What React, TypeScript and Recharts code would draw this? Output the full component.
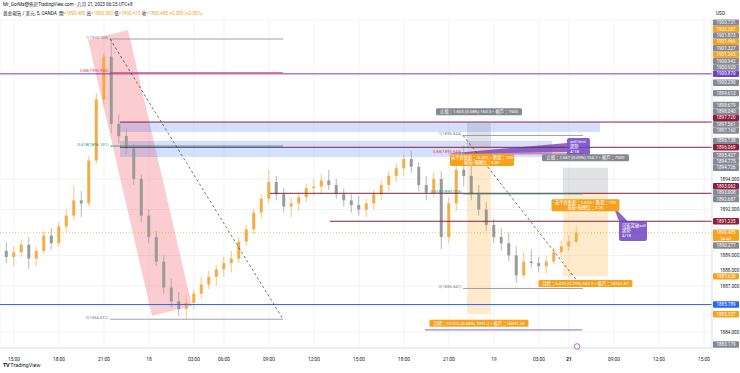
import React from "react";
import {
  ComposedChart,
  Bar,
  XAxis,
  YAxis,
  CartesianGrid,
  ReferenceLine,
  ReferenceArea,
  ReferenceDot,
} from "recharts";

const FONT = "Roboto, 'Noto Sans CJK TC', 'Noto Sans', sans-serif";
const UP = "#f5ac45";
const DOWN = "#9a9a9a";
const ORANGE = "#f6a21e";
const GRAY = "#868993";
const RED = "#8e1e3a";
const PURPLE = "#6f42c1";
const BLUE = "#2962ff";
const TEAL = "#089981";
const PINK = "#f23645";

// 30 minute bars (0 = Aug 17 15:00)
const firstOpen = 1889.3;
const closes = [
  1888.9, 1889.2, 1889.7, 1888.8, 1889.3, 1890.3, 1889.8, 1890.9, 1891.6, 1892.6,
  1892.4, 1895.2, 1899.2, 1902.0, 1897.6, 1896.8, 1896.0, 1894.0, 1891.6, 1890.2,
  1888.6, 1886.9, 1886.0, 1885.5, 1885.9, 1886.5, 1887.1, 1887.6, 1888.1, 1888.5,
  1888.8, 1889.9, 1890.7, 1891.8, 1892.7, 1893.8, 1893.0, 1892.2, 1892.4, 1892.8,
  1893.4, 1893.5, 1893.9, 1893.6, 1893.0, 1892.6, 1892.3, 1892.0, 1892.4, 1893.0,
  1893.6, 1894.2, 1894.7, 1895.3, 1894.8, 1893.6, 1893.1, 1894.0, 1890.2, 1892.4,
  1894.6, 1894.2, 1893.0, 1892.0, 1891.0, 1890.2, 1889.8, 1889.0, 1887.7, 1888.6,
  1888.5, 1888.3, 1888.6, 1889.2, 1889.6, 1889.9, 1890.485,
];
const highs = [
  1889.9, 1889.6, 1890.0, 1890.2, 1889.6, 1890.6, 1890.8, 1891.2, 1892.0, 1893.6,
  1893.2, 1895.5, 1899.6, 1902.2, 1903.15, 1898.2, 1897.3, 1896.3, 1894.3, 1892.0,
  1890.6, 1889.0, 1887.5, 1886.6, 1886.4, 1886.8, 1887.6, 1888.0, 1888.4, 1888.9,
  1889.3, 1890.2, 1891.0, 1892.0, 1893.0, 1894.6, 1894.2, 1893.4, 1892.8, 1893.1,
  1893.7, 1894.0, 1894.3, 1894.6, 1894.0, 1893.4, 1893.0, 1892.9, 1892.7, 1893.3,
  1893.9, 1894.5, 1895.0, 1895.6, 1895.85, 1895.1, 1894.2, 1894.4, 1894.5, 1892.8,
  1895.4, 1896.2, 1895.0, 1893.6, 1892.5, 1891.4, 1890.8, 1890.5, 1889.6, 1889.2,
  1889.4, 1888.9, 1889.0, 1889.5, 1890.0, 1890.3, 1890.9,
];
const lows = [
  1888.5, 1888.3, 1888.9, 1888.1, 1888.3, 1889.1, 1889.4, 1889.6, 1890.5, 1891.3,
  1891.5, 1892.2, 1895.0, 1898.8, 1897.0, 1896.3, 1895.6, 1893.6, 1891.2, 1889.8,
  1888.3, 1886.5, 1885.6, 1885.0, 1884.83, 1885.5, 1886.2, 1886.8, 1887.0, 1887.6,
  1887.9, 1888.5, 1889.6, 1890.4, 1891.4, 1892.4, 1892.6, 1891.8, 1891.5, 1891.9,
  1892.5, 1892.9, 1893.0, 1893.3, 1892.7, 1892.2, 1891.8, 1891.6, 1891.5, 1892.0,
  1892.6, 1893.2, 1893.8, 1894.2, 1894.4, 1893.2, 1892.6, 1892.8, 1889.4, 1889.8,
  1891.9, 1893.5, 1892.6, 1891.6, 1890.6, 1889.8, 1889.3, 1888.6, 1887.2, 1887.5,
  1888.2, 1887.9, 1887.8, 1888.4, 1888.8, 1889.3, 1889.8,
];

const tickPos = [0, 6, 12, 18, 24, 28, 34, 40, 46, 52, 58, 64, 70, 74, 80, 86, 92];
const tickText = ["15:00", "18:00", "21:00", "18", "03:00", "06:00", "09:00", "12:00", "15:00", "18:00", "21:00", "19", "03:00", "21", "09:00", "12:00", "15:00"];
const priceTicks = [1884, 1887, 1888, 1889, 1892, 1894];

// price scale tags on the right
const tagValues = [
  1903.731, 1903.287, 1901.873, 1901.466, 1901.327, 1901.263, 1900.942, 1900.92, 1900.87,
  1900.29, 1899.613, 1898.679, 1898.04, 1897.72, 1897.561, 1897.16, 1896.138, 1896.069,
  1895.427, 1894.775, 1894.726, 1893.062, 1893.008, 1892.687, 1891.235, 1890.485,
  1890.277, 1887.63, 1885.789, 1885.157, 1883.179,
];
const tagKinds = [
  "gray", "orange", "gray", "orange", "gray", "orange", "gray", "gray", "purple",
  "gray", "gray", "gray", "gray", "red", "gray", "gray", "gray", "red",
  "gray", "gray", "gray", "red", "gray", "gray", "red", "last",
  "gray", "orange", "blue", "orange", "gray",
];
const TAG_BG: Record<string, string> = { gray: GRAY, orange: ORANGE, red: RED, purple: PURPLE, blue: BLUE, last: ORANGE };

// fib drawings
const fib1Span = [12.8, 35.87];
const fib1Levels = ["1", "0.88", "0.618", "0"];
const fib1Prices = [1903.148, 1900.95, 1896.151, 1884.832];
const fib2Span = [59.87, 75.87];
const fib2Levels = ["1", "0.88", "0.618", "0"];
const fib2Prices = [1896.844, 1895.644, 1893.023, 1886.841];
const fibColors = [GRAY, PINK, TEAL, GRAY];

// horizontal levels
const levelPrices = [1900.87, 1897.72, 1896.069, 1893.062, 1891.235, 1885.789];
const levelStarts = [-1.87, 14.13, 14.13, 34.13, 42.13, -1.87];
const levelColors = [PURPLE, RED, RED, RED, RED, BLUE];

const bandCorners: [number, number][] = [[9.87, 1903.08], [15.2, 1903.74], [23.73, 1885.7], [18.4, 1885.05]];

// short position tools
const pos1 = { t1: 60.4, t2: 63.6, stop: 1897.672, entry: 1896.069, target: 1885.157 };
const pos2 = { t1: 73.2, t2: 79.2, stop: 1894.726, entry: 1893.062, target: 1887.63 };

const Y_MIN = 1882.95;
const Y_MAX = 1904.39;
const X_MIN = -1.87;
const X_MAX = 93.07;
const PLOT_H = 328;
const TAG_H = 6.4;

function stackTags() {
  const gap = (TAG_H * (Y_MAX - Y_MIN)) / PLOT_H;
  const last = tagValues[tagKinds.indexOf("last")];
  const shown = tagValues.map((v, i) =>
    tagKinds[i] !== "last" && v < last && v > last - 2 * gap ? last - 2 * gap : v
  );
  const order = shown.map((_, i) => i).sort((a, b) => shown[a] - shown[b]);
  for (let k = 1; k < order.length; k++) {
    const cur = order[k];
    const prev = order[k - 1];
    if (tagKinds[cur] !== "last" && shown[cur] < shown[prev] + gap) shown[cur] = shown[prev] + gap;
  }
  return shown;
}

function Candle(props: any) {
  const { x, y, width, height, payload } = props;
  if (!payload || x == null) return null;
  const top = Math.min(y, y + height);
  const h = Math.abs(height);
  const span = payload.high - payload.low || 1;
  const color = payload.close >= payload.open ? UP : DOWN;
  const toY = (v: number) => top + ((payload.high - v) / span) * h;
  const b1 = toY(Math.max(payload.open, payload.close));
  const b2 = toY(Math.min(payload.open, payload.close));
  const cx = x + width / 2;
  return (
    <g>
      <line x1={cx} x2={cx} y1={top} y2={top + h} stroke={color} strokeWidth={0.7} />
      <rect x={x} y={b1} width={width} height={Math.max(b2 - b1, 0.8)} fill={color} />
    </g>
  );
}

function poly(key: string, pts: [number, number][], fill: string, opacity: number) {
  const ts = pts.map((p) => p[0]);
  const ps = pts.map((p) => p[1]);
  const t0 = Math.min(...ts);
  const t1 = Math.max(...ts);
  const p0 = Math.min(...ps);
  const p1 = Math.max(...ps);
  return (
    <ReferenceArea
      key={key}
      x1={t0}
      x2={t1}
      y1={p0}
      y2={p1}
      ifOverflow="visible"
      fill="none"
      stroke="none"
      shape={(s: any) => {
        const str = pts
          .map(([t, p]) => `${s.x + ((t - t0) / (t1 - t0)) * s.width},${s.y + ((p1 - p) / (p1 - p0)) * s.height}`)
          .join(" ");
        return <polygon points={str} fill={fill} fillOpacity={opacity} />;
      }}
    />
  );
}

function seg(key: string, t1: number, p1: number, t2: number, p2: number, color: string, w = 1, dash?: string) {
  return (
    <ReferenceLine
      key={key}
      segment={[{ x: t1, y: p1 }, { x: t2, y: p2 }]}
      stroke={color}
      strokeWidth={w}
      strokeDasharray={dash}
      ifOverflow="visible"
    />
  );
}

function note(key: string, t: number, p: number, draw: (x: number, y: number) => React.ReactNode) {
  return (
    <ReferenceDot
      key={key}
      x={t}
      y={p}
      r={0}
      fill="none"
      stroke="none"
      ifOverflow="visible"
      label={(props: any) => (props.viewBox ? <g>{draw(props.viewBox.x, props.viewBox.y)}</g> : null)}
    />
  );
}

function boxLabel(cx: number, cy: number, w: number, lines: string[], bg: string) {
  const h = lines.length * 5 + 2;
  return (
    <g>
      <rect x={cx - w / 2} y={cy - h / 2} width={w} height={h} rx={1.5} fill={bg} />
      {lines.map((s, i) => (
        <text key={i} x={cx} y={cy - h / 2 + 5 + i * 5} textAnchor="middle" fontSize={4.3} fill="#fff" fontFamily={FONT}>
          {s}
        </text>
      ))}
    </g>
  );
}

function callout(x: number, y: number, w: number, h: number, lines: string[]) {
  return (
    <g>
      <rect x={x} y={y} width={w} height={h} rx={2} fill={PURPLE} fillOpacity={0.85} />
      {lines.map((s, i) => (
        <text key={i} x={x + 3} y={y + 5.5 + i * 5} fontSize={4.3} fill="#fff" fontFamily={FONT}>
          {s}
        </text>
      ))}
    </g>
  );
}

export default function App() {
  const data = closes.map((c, i) => ({
    t: i - 1,
    open: i === 0 ? firstOpen : closes[i - 1],
    high: highs[i],
    low: lows[i],
    close: c,
    range: [lows[i], highs[i]],
  }));
  const shownTags = stackTags();

  const fibs = [
    { span: fib1Span, levels: fib1Levels, prices: fib1Prices, id: "a" },
    { span: fib2Span, levels: fib2Levels, prices: fib2Prices, id: "b" },
  ];

  return (
    <div style={{ position: "absolute", left: 0, top: 0, width: 740, height: 373, background: "#fff", fontFamily: FONT, overflow: "hidden" }}>
      <ComposedChart width={740} height={373} data={data} margin={{ top: 20, right: 0, bottom: 0, left: 0 }}>
        <CartesianGrid stroke="#f2f3f7" />
        <XAxis
          dataKey="t"
          type="number"
          domain={[X_MIN, X_MAX]}
          allowDataOverflow
          ticks={tickPos}
          height={25}
          tickLine={false}
          axisLine={{ stroke: "#e0e3eb" }}
          tick={(p: any) => {
            const idx = tickPos.indexOf(p.payload.value);
            const txt = tickText[idx] ?? "";
            return (
              <text x={p.x} y={p.y + 5} textAnchor="middle" fontSize={4.8} fill="#131722" fontWeight={txt === "21" ? 700 : 400} fontFamily={FONT}>
                {txt}
              </text>
            );
          }}
        />
        <YAxis
          orientation="right"
          width={28}
          domain={[Y_MIN, Y_MAX]}
          allowDataOverflow
          ticks={priceTicks}
          tickFormatter={(v: number) => v.toFixed(3)}
          tickLine={false}
          axisLine={{ stroke: "#e0e3eb" }}
          tickMargin={2}
          tick={{ fontSize: 4.6, fill: "#131722", fontFamily: FONT }}
        />

        {poly("band", bandCorners, PINK, 0.25)}
        <ReferenceArea x1={14.13} x2={78.13} y1={1897.07} y2={1897.72} fill={BLUE} fillOpacity={0.2} stroke="none" ifOverflow="visible" />
        <ReferenceArea x1={14.13} x2={71.73} y1={1895.44} y2={1896.48} fill={BLUE} fillOpacity={0.2} stroke="none" ifOverflow="visible" />

        {[pos1, pos2].flatMap((p, i) => [
          <ReferenceArea key={`s${i}`} x1={p.t1} x2={p.t2} y1={p.entry} y2={p.stop} fill="#787b86" fillOpacity={0.22} stroke="none" ifOverflow="visible" />,
          <ReferenceArea key={`g${i}`} x1={p.t1} x2={p.t2} y1={p.target} y2={p.entry} fill="#ff9800" fillOpacity={0.2} stroke="none" ifOverflow="visible" />,
        ])}

        <Bar dataKey="range" barSize={3} shape={<Candle />} isAnimationActive={false} />

        {levelPrices.map((p, i) => seg(`lv${i}`, levelStarts[i], p, X_MAX, p, levelColors[i], 1))}
        {seg("last", X_MIN, 1890.485, X_MAX, 1890.485, ORANGE, 0.7, "1 2")}
        {seg("pl", 54.8, 1884.13, 75.73, 1884.13, PURPLE, 0.8)}

        {fibs.flatMap((f) =>
          f.prices.map((p, i) => seg(`f${f.id}${i}`, f.span[0], p, f.span[1], p, fibColors[i], 0.8))
        )}
        {fibs.map((f) =>
          seg(`d${f.id}`, f.span[0], f.prices[0], f.span[1], f.prices[3], "#333", 0.7, "2.5 2.5")
        )}
        {fibs.flatMap((f) =>
          f.prices.map((p, i) =>
            note(`fl${f.id}${i}`, f.span[0], p, (x, y) => (
              <text x={x - 1.5} y={y - 0.4} textAnchor="end" fontSize={4.2} fill={fibColors[i]} fontFamily={FONT}>
                {`${f.levels[i]}(${p.toFixed(3)})`}
              </text>
            ))
          )
        )}

        {poly("ptr1", [[57.7, 1895.65], [73.73, 1896.35], [73.73, 1895.75]], PURPLE, 0.8)}
        {poly("ptr2", [[79.87, 1892.24], [80.67, 1891.25], [81.8, 1891.25]], PURPLE, 0.8)}
        {note("c1", 73.73, 1896.68, (x, y) => callout(x, y, 23, 19, ["sell limit", "趨勢", "4/18"]))}
        {note("c2", 80.67, 1891.25, (x, y) => callout(x, y, 28, 20, ["可能突破sell", "趨勢", "4/18"]))}

        {note("p1s", (pos1.t1 + pos1.t2) / 2, pos1.stop, (x, y) => boxLabel(x, y - 11, 86, ["止損：1.603 (0.08%) 160.3，帳戶：7500"], GRAY))}
        {note("p1e", (pos1.t1 + pos1.t2) / 2, pos1.entry, (x, y) => boxLabel(x + 3, y + 12.8, 64, ["未平倉盈虧：-0.416，數量：100", "風險/報酬比：6.81"], ORANGE))}
        {note("p1t", (pos1.t1 + pos1.t2) / 2, pos1.target, (x, y) => boxLabel(x, y + 9, 99, ["目標：10.912 (0.58%) 1091.2，帳戶：18591.20"], ORANGE))}
        {note("p2s", (pos2.t1 + pos2.t2) / 2, pos2.stop, (x, y) => boxLabel(x, y - 10, 87, ["止損：1.667 (0.09%) 166.7，帳戶：7500"], GRAY))}
        {note("p2e", (pos2.t1 + pos2.t2) / 2, pos2.entry, (x, y) => boxLabel(x, y + 12, 68, ["未平倉盈虧：2.574，數量：100", "風險/報酬比：3.26"], ORANGE))}
        {note("p2t", (pos2.t1 + pos2.t2) / 2, pos2.target, (x, y) => boxLabel(x, y + 7, 94, ["目標：5.429 (0.29%) 542.9，帳戶：18161.87"], ORANGE))}

        <ReferenceDot x={75.07} y={1883.05} r={2.8} fill="#fff" stroke="#9c27b0" strokeWidth={0.7} ifOverflow="visible" />

        {tagValues.map((v, i) =>
          note(`tag${i}`, X_MAX, shownTags[i], (x, y) => (
            <g>
              <rect x={x + 1} y={y - TAG_H / 2} width={26} height={TAG_H} rx={1} fill={TAG_BG[tagKinds[i]]} />
              <text x={x + 14} y={y + 1.6} textAnchor="middle" fontSize={4.5} fill="#fff" fontFamily={FONT}>
                {v.toFixed(3)}
              </text>
              {tagKinds[i] === "last" && (
                <g>
                  <rect x={x + 1} y={y + TAG_H / 2 - 0.5} width={26} height={5.5} fill={ORANGE} />
                  <text x={x + 14} y={y + TAG_H / 2 + 3.8} textAnchor="middle" fontSize={4.3} fill="#fff" fontFamily={FONT}>
                    04:43
                  </text>
                </g>
              )}
            </g>
          ))
        )}
      </ComposedChart>

      <div style={{ position: "absolute", left: 3, top: 2, fontSize: 4.6, lineHeight: "6px", color: "#131722", whiteSpace: "nowrap" }}>
        Mr_GorMa發佈於TradingView.com - 八月 21, 2023 06:25 UTC+8
      </div>
      <div style={{ position: "absolute", left: 3, top: 11, fontSize: 4.6, lineHeight: "6px", color: "#131722", whiteSpace: "nowrap" }}>
        黃金現貨 / 美元, 5, OANDA&nbsp;&nbsp;開<span style={{ color: ORANGE }}>=1890.485</span> 高
        <span style={{ color: ORANGE }}>=1890.500</span> 低<span style={{ color: ORANGE }}>=1890.415</span> 收
        <span style={{ color: ORANGE }}>=1890.485</span> <span style={{ color: ORANGE }}>+0.000 (+0.00%)</span>
      </div>
      <div style={{ position: "absolute", left: 716, top: 11, fontSize: 4.8, lineHeight: "6px", color: "#131722" }}>USD</div>
      <div style={{ position: "absolute", left: 3, top: 362, fontSize: 5.5, lineHeight: "7px", color: "#131722", whiteSpace: "nowrap" }}>
        <b style={{ letterSpacing: -0.5 }}>TV</b> TradingView
      </div>
    </div>
  );
}
